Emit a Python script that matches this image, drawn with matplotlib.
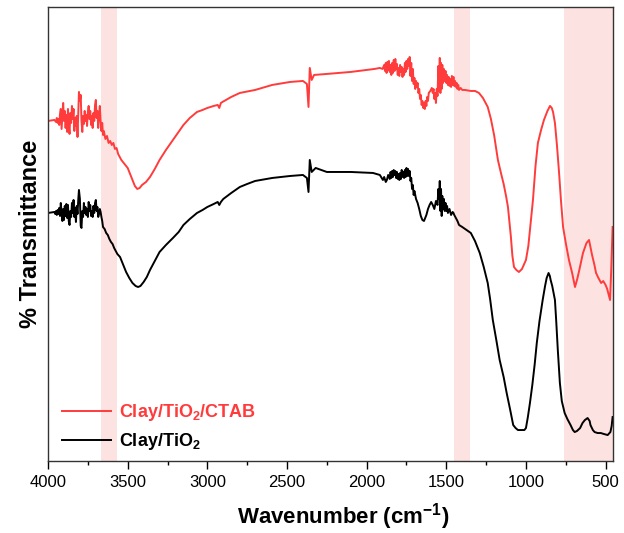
import numpy as np
import matplotlib
matplotlib.use('Agg')
import matplotlib.pyplot as plt
from matplotlib.ticker import MultipleLocator

plt.rcParams['font.family'] = ['Liberation Sans', 'DejaVu Sans']
plt.rcParams['mathtext.fontset'] = 'custom'
plt.rcParams['mathtext.rm'] = 'Liberation Sans'
plt.rcParams['mathtext.bf'] = 'Liberation Sans:bold'

# FTIR spectra (wavenumber cm-1, transmittance in arbitrary units)
wn_ctab = [4000, 3960, 3950, 3945, 3940, 3935, 3930, 3925, 3920, 3915, 3910, 3905, 3900,
           3895, 3890, 3885, 3880, 3875, 3870, 3865, 3860, 3855, 3850, 3845, 3840, 3835,
           3830, 3825, 3820, 3815, 3810, 3806, 3800, 3795, 3790, 3785, 3780, 3775, 3770,
           3765, 3760, 3755, 3750, 3745, 3740, 3735, 3730, 3725, 3720, 3715, 3710, 3705,
           3700, 3695, 3690, 3685, 3680, 3675, 3670, 3665, 3660, 3655, 3650, 3640, 3630,
           3620, 3610, 3600, 3590, 3580, 3570, 3560, 3540, 3520, 3500, 3485, 3470, 3455,
           3440, 3425, 3410, 3385, 3360, 3330, 3300, 3260, 3216, 3180, 3150, 3110, 3065,
           3030, 3000, 2960, 2935, 2925, 2915, 2905, 2850, 2796, 2700, 2593, 2480, 2400,
           2375, 2365, 2357, 2345, 2330, 2250, 2100, 2000, 1950, 1917, 1900,
           1890, 1885, 1880, 1875, 1870, 1865, 1860, 1855, 1850, 1845, 1840, 1835, 1830,
           1825, 1820, 1815, 1810, 1805, 1800, 1795, 1790, 1785, 1780, 1775, 1770, 1765,
           1760, 1755, 1750, 1745, 1740, 1735, 1730, 1725, 1720, 1715, 1710, 1705, 1700,
           1695, 1690, 1685, 1680, 1675, 1670, 1665, 1660, 1655, 1650, 1645, 1640, 1635,
           1630, 1625, 1620, 1615, 1610, 1600, 1591, 1585, 1580, 1575, 1570, 1565, 1560,
           1555, 1550, 1545, 1541, 1537, 1533, 1529, 1525, 1520, 1515, 1510, 1505, 1500,
           1495, 1490, 1485, 1480, 1475, 1470, 1465, 1460, 1455, 1450, 1445, 1440, 1435,
           1430, 1425, 1420, 1410, 1400, 1384, 1346, 1320, 1295, 1270, 1240, 1220, 1200,
           1185, 1176, 1157, 1140, 1125, 1113, 1095, 1085, 1075, 1060, 1044, 1025, 1000,
           985, 975, 956, 940, 925, 905, 887, 865, 849, 838, 830, 818, 805, 792, 780, 767,
           750, 730, 710, 692, 678, 665, 642, 620, 604, 595, 585, 570, 560, 545, 528, 515,
           500, 490, 480, 472, 465, 456]
t_ctab = [340, 341, 339, 343, 338, 342, 336, 347, 352, 332, 345, 358, 340,
          350, 333, 346, 329, 352, 335, 327, 348, 338, 355, 342, 352, 330,
          343, 335, 345, 324, 350, 369, 360, 366, 340, 329, 345, 337, 350,
          340, 346, 335, 349, 355, 342, 350, 336, 345, 333, 348, 340, 356,
          361, 343, 350, 333, 345, 355, 340, 330, 338, 326, 330, 322, 325,
          318, 320, 316, 318, 312, 313, 307, 301, 297, 293, 287, 281, 275,
          272, 273, 276, 279, 284, 292, 301, 311, 321, 329, 336, 343, 349,
          351, 353, 355, 356, 353, 358, 359, 364, 368, 371, 376, 379, 380,
          377, 354, 393, 381, 386, 387, 389, 391, 392, 393, 392,
          396, 390, 398, 388, 399, 391, 400, 389, 396, 386, 398, 388, 401,
          390, 402, 392, 397, 386, 393, 385, 396, 389, 394, 384, 392, 386,
          398, 389, 400, 392, 402, 395, 404, 385, 398, 380, 392, 377, 383,
          372, 380, 374, 378, 368, 372, 362, 366, 356, 360, 353, 358, 352,
          360, 355, 364, 360, 368, 370, 373, 368, 372, 362, 368, 358, 372,
          365, 395, 370, 403, 368, 398, 372, 396, 378, 392, 380, 390, 378,
          386, 376, 384, 375, 382, 374, 385, 376, 384, 375, 380, 374, 378,
          372, 376, 371, 373, 371, 371, 370, 370, 368, 363, 354, 342, 326,
          310, 301, 288, 277, 265, 254, 225, 205, 194, 191, 189, 192, 201,
          215, 231, 261, 295, 318, 331, 341, 350, 355, 353, 349, 338, 315, 288, 260, 234,
          218, 201, 188, 174, 182, 191, 208, 218, 221, 214, 206, 196, 188, 183, 178, 180,
          176, 172, 166, 161, 190, 234]

wn_clay = [4000, 3960, 3955, 3950, 3945, 3940, 3935, 3930, 3925, 3920, 3915, 3910, 3905,
           3900, 3895, 3890, 3885, 3880, 3875, 3870, 3865, 3860, 3855, 3850, 3845, 3840,
           3835, 3830, 3825, 3820, 3815, 3810, 3806, 3800, 3795, 3790, 3785, 3780, 3775,
           3770, 3765, 3760, 3755, 3750, 3745, 3740, 3735, 3730, 3725, 3720, 3715, 3710,
           3705, 3700, 3695, 3690, 3685, 3680, 3675, 3670, 3665, 3660, 3655, 3645, 3635,
           3625, 3615, 3605, 3595, 3585, 3575, 3565, 3548, 3530, 3510, 3490, 3470, 3450,
           3435, 3420, 3400, 3380, 3360, 3330, 3300, 3260, 3216, 3180, 3150, 3110, 3065,
           3030, 3000, 2960, 2935, 2925, 2915, 2900, 2850, 2796, 2750, 2700, 2593, 2480,
           2400, 2375, 2365, 2357, 2345, 2320, 2250, 2100, 1960, 1917, 1898, 1890, 1880,
           1873, 1865, 1855, 1850, 1845, 1840, 1835, 1830, 1825, 1820, 1815, 1810, 1805,
           1800, 1795, 1790, 1785, 1780, 1775, 1770, 1765, 1760, 1755, 1750, 1745, 1740,
           1735, 1730, 1725, 1720, 1715, 1710, 1705, 1700, 1690, 1680, 1670, 1660, 1650,
           1640, 1635, 1625, 1615, 1605, 1595, 1585, 1575, 1565, 1555, 1550, 1545, 1541,
           1537, 1533, 1529, 1525, 1520, 1515, 1510, 1505, 1500, 1495, 1490, 1480, 1470,
           1460, 1455, 1450, 1440, 1430, 1420, 1400, 1346, 1320, 1290, 1265, 1240, 1225,
           1208, 1185, 1165, 1140, 1121, 1100, 1080, 1065, 1050, 1026, 1010, 1000, 988,
           975, 960, 945, 932, 915, 895, 880, 870, 858, 850, 845, 835, 818, 810, 800, 787,
           775, 757, 740, 720, 705, 694, 680, 660, 645, 630, 613, 600, 595, 580, 569, 550,
           530, 510, 487, 470, 462, 456]
t_clay = [248, 249, 247, 250, 246, 251, 247, 253, 245, 258, 248, 240, 252,
          241, 255, 245, 257, 243, 256, 240, 236, 250, 244, 258, 248, 261,
          244, 253, 239, 255, 247, 262, 271, 262, 235, 233, 250, 244, 258,
          248, 254, 246, 252, 244, 259, 250, 256, 245, 250, 244, 255, 248,
          258, 261, 250, 254, 244, 247, 252, 249, 244, 240, 234, 232, 228,
          226, 222, 219, 217, 213, 210, 207, 204, 197, 189, 183, 178, 175,
          174, 175, 179, 184, 191, 200, 209, 216, 223, 229, 236, 242, 248,
          251, 254, 257, 259, 256, 259, 262, 268, 274, 277, 280, 283, 285,
          286, 283, 269, 301, 289, 293, 289, 289, 288, 286, 281, 284, 279,
          281, 286, 282, 289, 283, 290, 284, 291, 286, 290, 283, 289, 282,
          287, 281, 288, 282, 291, 284, 289, 283, 291, 284, 293, 285, 292,
          285, 290, 280, 283, 272, 276, 266, 270, 262, 258, 252, 245, 241,
          240, 242, 246, 252, 256, 259, 256, 252, 260, 256, 272, 262, 280,
          250, 272, 245, 265, 252, 262, 250, 258, 250, 255, 248, 252, 246,
          249, 248, 246, 243, 240, 236, 234, 228, 220, 208, 194, 178, 162,
          141, 120, 101, 84, 68, 52, 36, 33, 31, 31, 31, 33, 44,
          58, 76, 97, 118, 140, 161, 175, 183, 188, 185, 181, 175, 161, 140, 111, 78,
          60, 48, 42, 36, 31, 29, 30, 33, 38, 41, 43, 40, 36, 31, 29, 28,
          28, 27, 26, 29, 35, 44]

# highlighted bands
bands = [(3665, 3565), (1450, 1350), (760, 455)]

fig = plt.figure(figsize=(6.24, 5.33), dpi=100)
ax = fig.add_axes([0.077, 0.135, 0.905, 0.852])

for lo, hi in bands:
    ax.axvspan(hi, lo, color='#fde2e2', lw=0, zorder=0)

ax.plot(wn_ctab, t_ctab, color='#ff3b3b', lw=1.4, label=r'Clay/TiO$_\mathbf{2}$/CTAB')
ax.plot(wn_clay, t_clay, color='black', lw=1.4, label=r'Clay/TiO$_\mathbf{2}$')

ax.set_xlim(4000, 455)
ax.set_ylim(0, 454)
ax.xaxis.set_major_locator(MultipleLocator(500))
ax.xaxis.set_minor_locator(MultipleLocator(250))
ax.tick_params(axis='x', which='major', length=6, width=1, labelsize=12, pad=4)
ax.tick_params(axis='x', which='minor', length=3, width=1)
ax.set_yticks([])
for s in ax.spines.values():
    s.set_color('#333333')
    s.set_linewidth(1)

ax.set_xlabel(r'Wavenumber (cm$^\mathbf{-1}$)', fontsize=16, fontweight='bold')
ax.xaxis.set_label_coords(0.522, -0.088)
ax.set_ylabel('% Transmittance', fontsize=17, fontweight='bold', labelpad=4)

leg = ax.legend(loc='upper left', bbox_to_anchor=(0.025, 0.13), frameon=False,
                borderpad=0, borderaxespad=0, handlelength=2.7, handletextpad=0.45,
                labelcolor='linecolor', prop={'weight': 'bold', 'size': 13},
                labelspacing=0.45)

fig.savefig('out.png', dpi=100)
